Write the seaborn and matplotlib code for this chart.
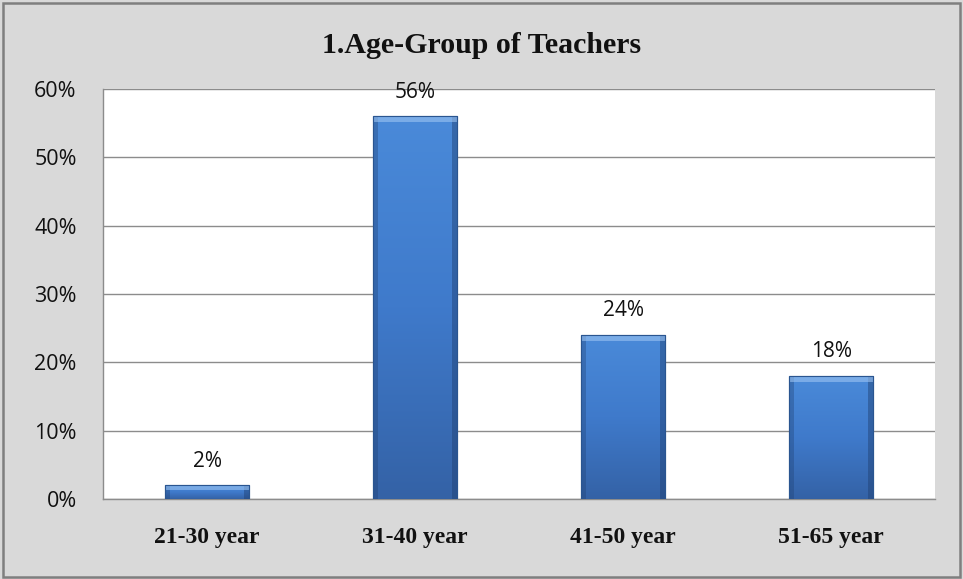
import numpy as np
import pandas as pd
import matplotlib
matplotlib.use('Agg')
import matplotlib.pyplot as plt
import seaborn as sns
from matplotlib.patches import Rectangle
from matplotlib.colors import LinearSegmentedColormap

# Data
age_groups = ['21-30 year', '31-40 year', '41-50 year', '51-65 year']
share_pct = [2, 56, 24, 18]
y_ticks = [0, 10, 20, 30, 40, 50, 60]

df = pd.DataFrame({'group': age_groups, 'share': share_pct})

sns.set_theme(style='white')
plt.rcParams['font.family'] = ['Open Sans', 'DejaVu Sans']

fig = plt.figure(figsize=(9.63, 5.79), dpi=100)
fig.patch.set_facecolor('#d9d9d9')
ax = fig.add_axes([0.107, 0.138, 0.864, 0.708])
ax.set_facecolor('white')

sns.barplot(data=df, x='group', y='share', color='#3f7ccc', width=0.4,
            edgecolor='#2a5590', linewidth=0.8, ax=ax, zorder=3)

# vertical blue gradient clipped to each bar, plus a simple bevel
grad = LinearSegmentedColormap.from_list('bar', ['#3462a6', '#3f7acb', '#4a8ad9'])
ramp = np.linspace(0, 1, 256).reshape(-1, 1)
for bar in ax.patches:
    x0, y0 = bar.get_x(), bar.get_y()
    w, h = bar.get_width(), bar.get_height()
    im = ax.imshow(ramp, cmap=grad, origin='lower', aspect='auto',
                   extent=[x0, x0 + w, y0, y0 + h], zorder=3.5)
    im.set_clip_path(bar)
    side = w * 0.06
    ax.add_patch(Rectangle((x0, y0), side, h, facecolor='#1f3f70',
                           alpha=0.35, edgecolor='none', zorder=3.55))
    ax.add_patch(Rectangle((x0 + w - side, y0), side, h, facecolor='#1f3f70',
                           alpha=0.45, edgecolor='none', zorder=3.55))
    bev = min(0.8, h * 0.35)
    ax.add_patch(Rectangle((x0, y0 + h - bev), w, bev, facecolor='#9cc4f2',
                           alpha=0.6, edgecolor='none', zorder=3.6))
    ax.add_patch(Rectangle((x0, y0), w, h, facecolor='none',
                           edgecolor='#2a5590', linewidth=0.8, zorder=3.7))

for i, v in enumerate(share_pct):
    ax.text(i, v + 2.0, f'{v}%', ha='center', va='bottom', fontsize=15,
            color='#111111', zorder=5, clip_on=False)

ax.set_xlim(-0.5, 3.5)
ax.set_ylim(0, 60)
ax.set_yticks(y_ticks)
ax.set_yticklabels([f'{t}%' for t in y_ticks], fontsize=15.5, color='#111111')
ax.yaxis.grid(True, color='#8c8c8c', linewidth=1.0, zorder=0)
ax.set_axisbelow(True)
ax.tick_params(axis='y', pad=19, length=0)
ax.tick_params(axis='x', pad=20, length=0)
for lab in ax.get_xticklabels():
    lab.set_fontfamily('Liberation Serif')
    lab.set_fontweight('bold')
    lab.set_fontsize(17)
    lab.set_color('#111111')
ax.set_xlabel('')
ax.set_ylabel('')
for side in ['top', 'right']:
    ax.spines[side].set_visible(False)
for side in ['left', 'bottom']:
    ax.spines[side].set_color('#8c8c8c')
    ax.spines[side].set_linewidth(1.0)

fig.text(0.5, 0.922, '1.Age-Group of Teachers', ha='center', va='center',
         fontsize=21.5, fontweight='bold', family='Liberation Serif', color='#111111')

fig.patches.append(Rectangle((0.003, 0.004), 0.994, 0.991, transform=fig.transFigure,
                             facecolor='none', edgecolor='#7f7f7f', linewidth=1.8))

fig.savefig('out.png', dpi=100, facecolor=fig.get_facecolor())
